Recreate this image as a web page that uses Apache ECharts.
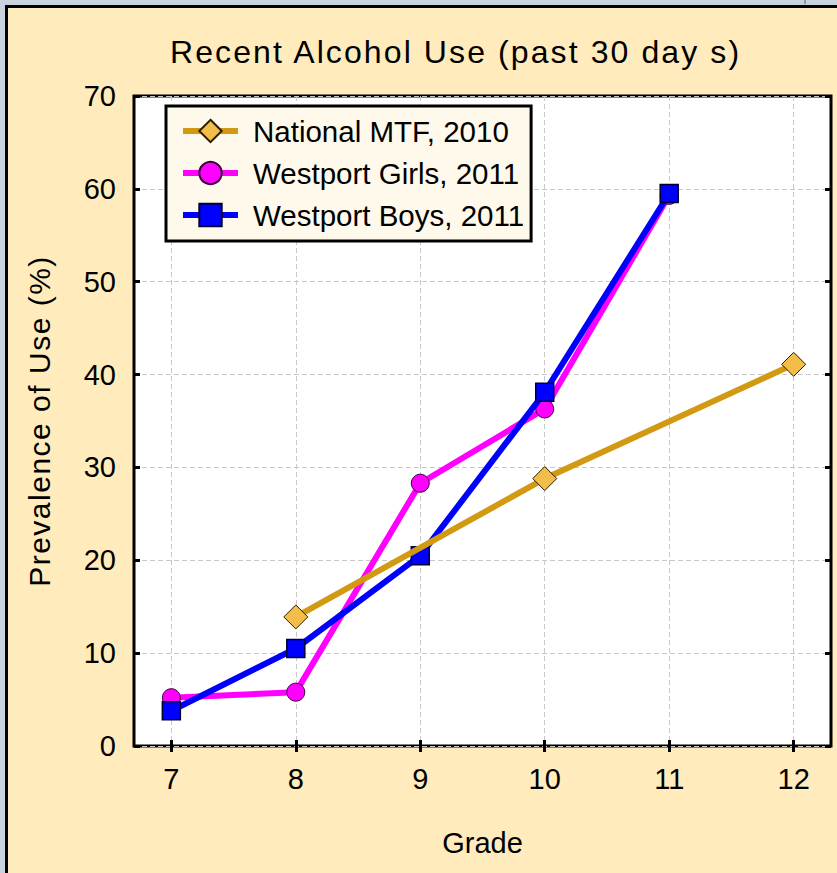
<!DOCTYPE html>
<html>
<head>
<meta charset="utf-8">
<script src="https://cdn.jsdelivr.net/npm/echarts@6/dist/echarts.min.js"></script>
<style>
html,body{margin:0;padding:0;background:#C9D3DB;width:837px;height:873px;overflow:hidden;}
#frame{position:absolute;left:5px;top:5px;width:850px;height:890px;border-left:3px solid #000;border-top:3px solid #000;background:#FFEBBB;}
#mark{position:absolute;left:804px;top:0;width:2px;height:4px;background:#8C9BB0;}
#chart{position:absolute;left:0;top:0;width:837px;height:873px;}
</style>
</head>
<body>
<div id="frame"></div>
<div id="mark"></div>
<div id="chart"></div>
<script>
// ---- data ----
const titleText = 'Recent Alcohol Use (past 30 day s)';
const xName = 'Grade';
const yName = 'Prevalence of Use (%)';
const grades = [7, 8, 9, 10, 11, 12];
const seriesNames = ['National MTF, 2010', 'Westport Girls, 2011', 'Westport Boys, 2011'];
const mtfGrades = [8, 10, 12];
const mtfValues = [13.9, 28.8, 41.1];
const girlsGrades = [7, 8, 9, 10, 11];
const girlsValues = [5.2, 5.8, 28.3, 36.3, 59.3];
const boysGrades = [7, 8, 9, 10, 11];
const boysValues = [3.8, 10.5, 20.5, 38.1, 59.5];

const FONT = "'Liberation Sans', Arial, sans-serif";
const pairs = (xs, ys) => xs.map((x, i) => [x, ys[i]]);

const chart = echarts.init(document.getElementById('chart'), null, {renderer: 'svg', width: 837, height: 873});

const tickStyle = {show: true, inside: true, length: 6, lineStyle: {color: '#000', width: 3}};
const gridLine = {show: true, lineStyle: {color: '#C8C8C8', width: 1, type: [5, 3]}};

const option = {
  animation: false,
  backgroundColor: 'transparent',
  title: {
    text: titleText, left: 170, top: 36, padding: 0,
    textStyle: {fontFamily: FONT, fontSize: 32, fontWeight: 'normal', color: '#000'}
  },
  legend: {
    data: seriesNames,
    orient: 'vertical', left: 166, top: 106,
    padding: [10, 7, 11, 14],
    itemWidth: 55, itemHeight: 28, itemGap: 12,
    backgroundColor: '#FFF9EC', borderColor: '#000', borderWidth: 3, borderRadius: 0,
    selectedMode: false,
    lineStyle: {width: 6},
    textStyle: {fontFamily: FONT, fontSize: 29.5, color: '#000', lineHeight: 30, padding: [0, 0, 0, 10]}
  },
  grid: {
    left: 134, right: 6, top: 96, bottom: 127,
    show: true, backgroundColor: '#fff', borderColor: '#000', borderWidth: 3,
    outerBoundsMode: 'none'
  },
  xAxis: [
    {
      type: 'value', position: 'bottom', min: 6.7, max: 12.3,
      name: xName, nameLocation: 'middle', nameGap: 82,
      nameTextStyle: {fontFamily: FONT, fontSize: 29, color: '#000'},
      axisLine: {show: false},
      axisTick: Object.assign({customValues: grades}, tickStyle),
      axisLabel: {customValues: grades, margin: 18, fontSize: 29, color: '#000', fontFamily: FONT},
      splitLine: gridLine
    },
    {
      type: 'value', position: 'top', min: 6.7, max: 12.3,
      axisLine: {show: false},
      axisTick: Object.assign({customValues: grades}, tickStyle),
      axisLabel: {show: false},
      splitLine: {show: false}
    }
  ],
  yAxis: [
    {
      type: 'value', position: 'left', min: 0, max: 70, interval: 10,
      name: yName, nameLocation: 'middle', nameGap: 80, nameRotate: 90,
      nameTextStyle: {fontFamily: FONT, fontSize: 30, color: '#000'},
      axisLine: {show: false},
      axisTick: tickStyle,
      axisLabel: {margin: 18, fontSize: 29, color: '#000', fontFamily: FONT},
      splitLine: gridLine
    },
    {
      type: 'value', position: 'right', min: 0, max: 70, interval: 10,
      axisLine: {show: false},
      axisTick: tickStyle,
      axisLabel: {show: false},
      splitLine: {show: false}
    }
  ],
  series: [
    {
      name: seriesNames[1], type: 'line', z: 2,
      data: pairs(girlsGrades, girlsValues),
      symbol: 'circle', symbolSize: 18,
      lineStyle: {color: '#FF00FF', width: 6},
      itemStyle: {color: '#FF00FF', borderColor: '#3A003A', borderWidth: 1}
    },
    {
      name: seriesNames[2], type: 'line', z: 3,
      data: pairs(boysGrades, boysValues),
      symbol: 'rect', symbolSize: 18,
      lineStyle: {color: '#0000FF', width: 6},
      itemStyle: {color: '#0000FF', borderColor: '#000033', borderWidth: 1.5}
    },
    {
      name: seriesNames[0], type: 'line', z: 4,
      data: pairs(mtfGrades, mtfValues),
      symbol: 'diamond', symbolSize: 24,
      lineStyle: {color: '#D29A12', width: 6},
      itemStyle: {color: '#F2BD48', borderColor: '#2A1E00', borderWidth: 1}
    }
  ]
};
chart.setOption(option);

function applySpacing() {
  document.querySelectorAll('#chart text').forEach(function (t) {
    const s = t.textContent;
    if (s === titleText) t.style.letterSpacing = '2.1px';
    else if (s === yName) t.style.letterSpacing = '1.5px';
  });
}
chart.on('finished', applySpacing);
setTimeout(applySpacing, 0);
setTimeout(applySpacing, 100);
</script>
</body>
</html>
